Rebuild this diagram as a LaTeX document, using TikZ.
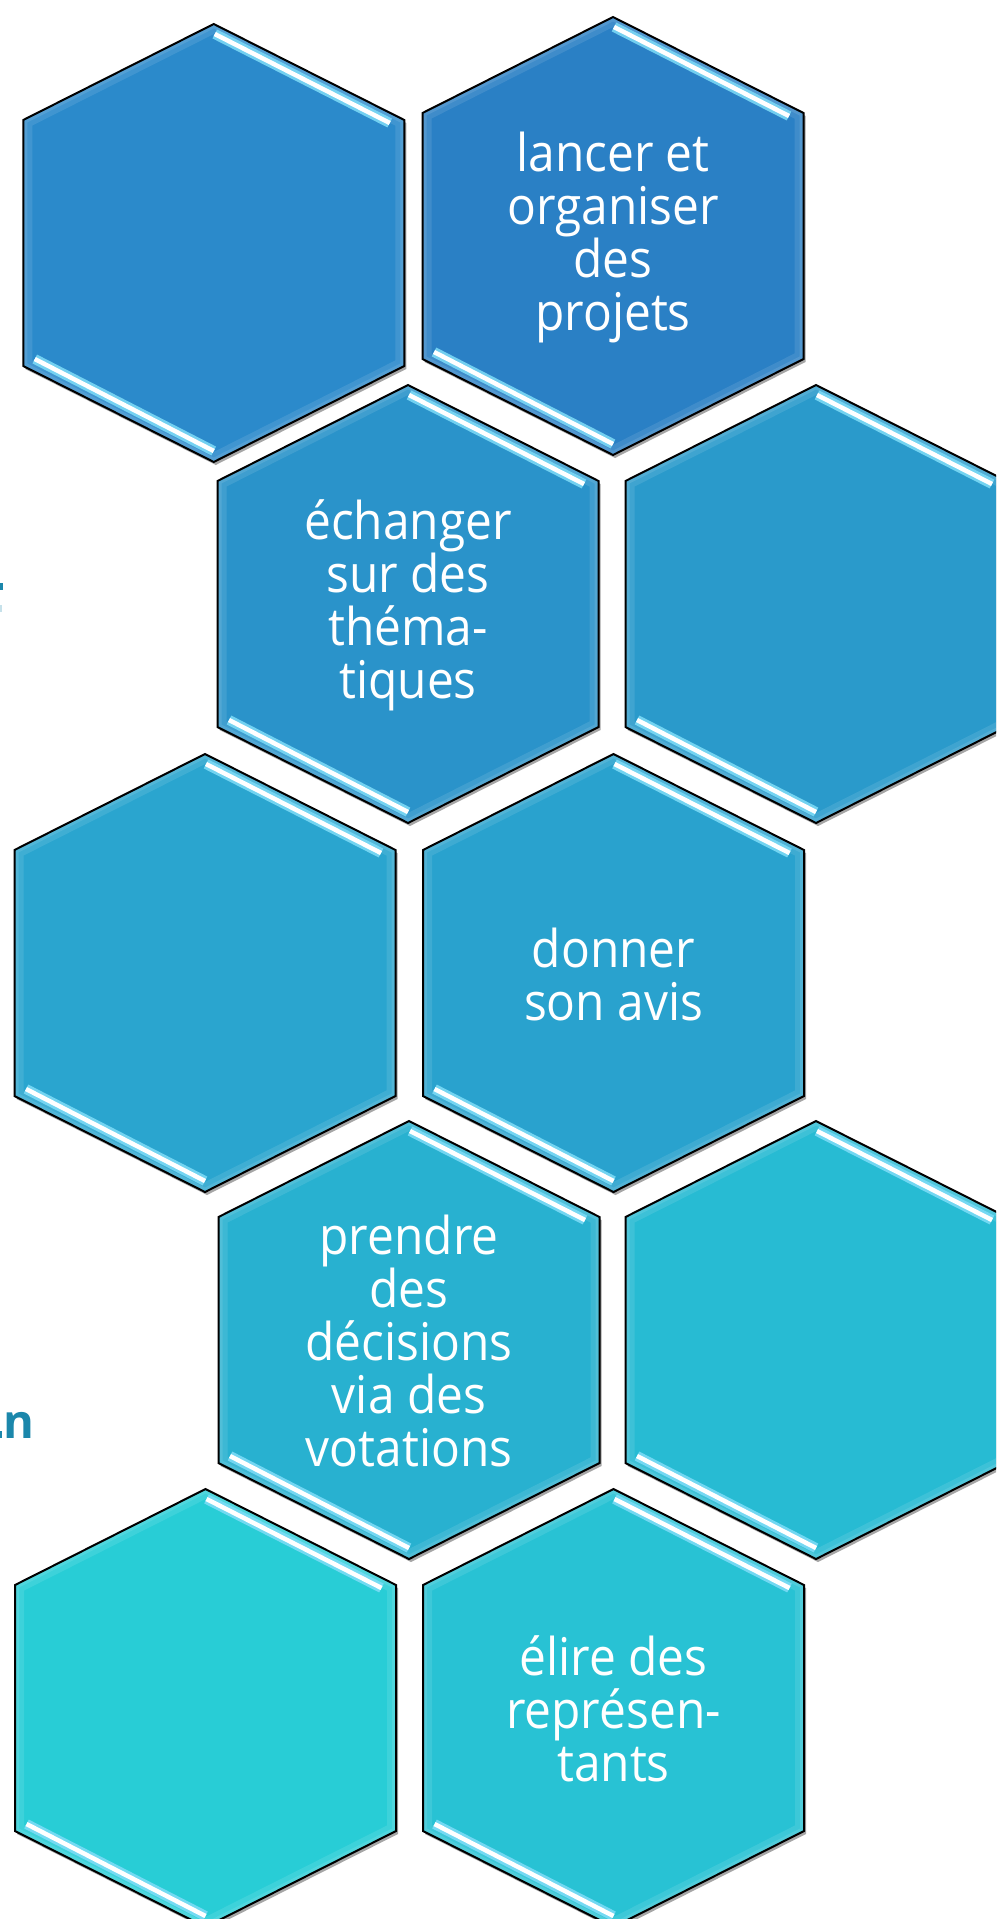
\documentclass[tikz,border=0pt]{standalone}
\usepackage{fontspec}
\setmainfont{Open Sans}
\newfontfamily\hexfont[FakeStretch=0.92]{Open Sans}
\newfontfamily\fragfont{Open Sans}
\usetikzlibrary{shadows}
\definecolor{rAL}{HTML}{2B8ACB}
\definecolor{rAR}{HTML}{2A80C5}
\definecolor{rBL}{HTML}{2A93CA}
\definecolor{rBR}{HTML}{2A9ACB}
\definecolor{rCL}{HTML}{2AA5CF}
\definecolor{rCR}{HTML}{29A2CE}
\definecolor{rDL}{HTML}{28B1D0}
\definecolor{rDR}{HTML}{27BBD3}
\definecolor{rEL}{HTML}{28CDD6}
\definecolor{rER}{HTML}{28C2D4}
\definecolor{fragteal}{HTML}{1B87AB}
\definecolor{glosscol}{HTML}{7FDDF8}
\newcommand\hexpath[2]{({#1-190.5},{#2+96}) -- ({#1},{#2}) -- ({#1+190.5},{#2+96}) -- ({#1+190.5},{#2+342}) -- ({#1},{#2+438}) -- ({#1-190.5},{#2+342}) -- cycle}
\newcommand\hexa[3]{% cx, top, colour
  \path[fill=#3, drop shadow={shadow xshift=2pt,shadow yshift=-3pt,opacity=.35,fill=black}] \hexpath{#1}{#2};
  \begin{scope}
    \clip \hexpath{#1}{#2};
    \draw[white, opacity=.10, line width=18] \hexpath{#1}{#2};
    \draw[white, opacity=.10, line width=8] \hexpath{#1}{#2};
  \end{scope}
  \draw[glosscol, opacity=.85, line width=10] ({#1+1},{#2+10}) -- ({#1+176},{#2+99});
  \draw[white, line width=4.5] ({#1+1},{#2+10}) -- ({#1+176},{#2+99});
  \draw[glosscol, opacity=.85, line width=10] ({#1-179},{#2+335}) -- ({#1},{#2+427});
  \draw[white, line width=4.5] ({#1-179},{#2+335}) -- ({#1},{#2+427});
  \draw[hexline] \hexpath{#1}{#2};
}
\tikzset{
  hexline/.style={draw=black, line width=2, line join=miter},
  hextext/.style={text=white, align=center, inner sep=0pt, font=\hexfont\fontsize{52}{53}\selectfont},
  fragtext/.style={text=fragteal, inner sep=0pt, font=\fragfont\bfseries\fontsize{47}{50}\selectfont}
}
\begin{document}
\begin{tikzpicture}[x=1pt,y=-1pt]
\useasboundingbox (0,0) rectangle (996,1919);
\fill[white] (0,0) rectangle (996,1919);
\begin{scope}
\clip (0,0) rectangle (996,1919);
% text fragments cut at the left edge
\node[fragtext, anchor=base west] (fragn) at (3,1438) {n};
\fill[fragteal] (0,1431) rectangle (2,1438);
\fill[fragteal] (0,583) rectangle (3,590);
\fill[fragteal!25] (0,605) rectangle (1.5,612);
% hexagons
\hexa{213.75}{24}{rAL}
\hexa{613}{17}{rAR}
\hexa{408}{385}{rBL}
\hexa{816}{385}{rBR}
\hexa{205}{754}{rCL}
\hexa{613.5}{754}{rCR}
\hexa{409}{1121}{rDL}
\hexa{816}{1121}{rDR}
\hexa{205.5}{1489}{rEL}
\hexa{613.5}{1489}{rER}
% labels
\node[hextext] (lancer) at (613,237) {lancer et\\organiser\\des\\projets};
\node[hextext] (echanger) at (408,605) {échanger\\sur des\\théma-\\tiques};
\node[hextext] (donner) at (613.5,974) {donner\\son avis};
\node[hextext] (prendre) at (409,1341) {prendre\\des\\décisions\\via des\\votations};
\node[hextext] (elire) at (613.5,1709) {élire des\\représen-\\tants};
\end{scope}
\end{tikzpicture}
\end{document}
